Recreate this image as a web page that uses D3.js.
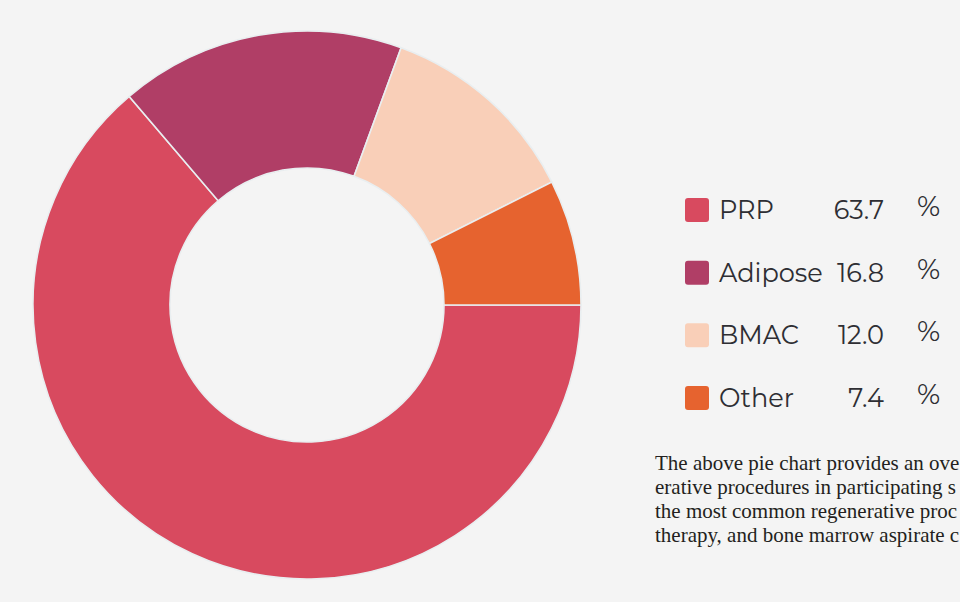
<!DOCTYPE html>
<html>
<head>
<meta charset="utf-8">
<script src="https://cdn.jsdelivr.net/npm/d3@7"></script>
<style>
  html, body { margin: 0; padding: 0; background: #f4f4f4; overflow: hidden; }
  svg { display: block; }
</style>
</head>
<body>
<svg id="chart" width="960" height="602"></svg>
<script>
// Share of regenerative procedures by type
const categories = ["PRP", "Adipose", "BMAC", "Other"];
const shares = [63.7, 16.8, 12.0, 7.4];
const shareLabels = ["63.7", "16.8", "12.0", "7.4"];
const colors = ["#d84a5f", "#b03e66", "#f9cfb8", "#e6632f"];

// Caption text as it runs into the right edge of the page
const captionLines = [
  "The above pie chart provides an ove",
  "erative procedures in participating s",
  "the most common regenerative proc",
  "therapy, and bone marrow aspirate c"
];

const svg = d3.select("#chart");
svg.append("rect").attr("width", 960).attr("height", 602).attr("fill", "#f4f4f4");

const cx = 307, cy = 305, rOuter = 274, rInner = 137;

const data = categories.map((c, i) => ({ name: c, value: shares[i], color: colors[i], label: shareLabels[i] }));

// Slices start at 3 o'clock and run clockwise in category order
const pie = d3.pie()
  .value(d => d.value)
  .sort(null)
  .startAngle(Math.PI / 2)
  .endAngle(Math.PI / 2 + 2 * Math.PI);

const arc = d3.arc().innerRadius(rInner).outerRadius(rOuter);

const g = svg.append("g").attr("transform", `translate(${cx},${cy})`);
g.selectAll("path")
  .data(pie(data))
  .join("path")
  .attr("d", arc)
  .attr("fill", d => d.data.color)
  .attr("stroke", "#e9eef0")
  .attr("stroke-width", 1.6);

// Legend
const legendFont = "Montserrat, 'Noto Sans', 'Open Sans', sans-serif";
const rowY = d3.scalePoint().domain(categories).range([219, 407]);

const legend = svg.append("g");
const rows = legend.selectAll("g.row").data(data).join("g").attr("class", "row")
  .attr("transform", d => `translate(0,${rowY(d.name)})`);

rows.append("rect")
  .attr("x", 685).attr("y", -21).attr("width", 24).attr("height", 24)
  .attr("rx", 3)
  .attr("fill", d => d.color);

rows.append("text")
  .attr("x", 719).attr("y", 0)
  .attr("font-family", legendFont)
  .attr("font-size", 25.6)
  .attr("fill", "#2e2e33")
  .text(d => d.name);

rows.append("text")
  .attr("x", 884).attr("y", 0)
  .attr("text-anchor", "end")
  .attr("font-family", legendFont)
  .attr("font-size", 25.6)
  .attr("fill", "#2e2e33")
  .text(d => d.label);

rows.append("text")
  .attr("x", 917).attr("y", -3)
  .attr("font-family", legendFont)
  .attr("font-size", 28)
  .attr("fill", "#2e2e33")
  .text("%");

// Caption
const caption = svg.append("text")
  .attr("font-family", "'Liberation Serif', 'DejaVu Serif', serif")
  .attr("font-size", 21)
  .attr("fill", "#231f20");
caption.selectAll("tspan").data(captionLines).join("tspan")
  .attr("x", 655)
  .attr("y", (d, i) => 470 + i * 24)
  .text(d => d);
</script>
</body>
</html>
